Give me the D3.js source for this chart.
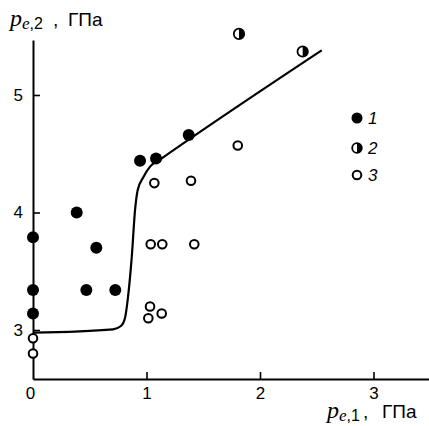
<!DOCTYPE html>
<html>
<head>
<meta charset="utf-8">
<script src="https://cdn.jsdelivr.net/npm/d3@7"></script>
<style>
  body { margin: 0; background: #fff; }
  svg { display: block; }
</style>
</head>
<body>
<svg width="429" height="426"></svg>
<script>
// series 1 - filled circles
var filledX = [0, 0, 0, 0.385, 0.558, 0.47, 0.725, 0.943, 1.084, 1.372];
var filledY = [3.79, 3.34, 3.14, 4.00, 3.70, 3.34, 3.34, 4.44, 4.46, 4.66];
// series 2 - half filled
var halfX = [1.815, 2.376];
var halfY = [5.52, 5.37];
// series 3 - open circles
var openX = [0, 0, 1.069, 1.392, 1.804, 1.037, 1.139, 1.421, 1.031, 1.016, 1.134];
var openY = [2.93, 2.80, 4.25, 4.27, 4.57, 3.73, 3.73, 3.73, 3.20, 3.10, 3.14];
// fitted curve
var curveX = [0, 0.705, 0.775, 0.81, 0.834, 0.87, 0.899, 0.922, 0.972, 1.031, 1.119, 2.544];
var curveY = [2.977, 3.006, 3.034, 3.10, 3.255, 3.62, 4.02, 4.19, 4.30, 4.39, 4.45, 5.38];

var xTicks = [0, 1, 2, 3];
var yTicks = [3, 4, 5];
var legendLabels = ["1", "2", "3"];

var svg = d3.select("svg");

var x = d3.scaleLinear().domain([0, 3.489]).range([33, 429]);
var y = d3.scaleLinear().domain([2.583, 5.468]).range([379, 40]);

var xAxis = svg.append("g")
    .attr("transform", "translate(0,379)")
    .call(d3.axisBottom(x).tickValues(xTicks).tickFormat(d3.format("d"))
        .tickSizeInner(-7).tickSizeOuter(0).tickPadding(8));
xAxis.selectAll(".tick line").filter(function(d){ return d == 0; }).remove();
xAxis.selectAll(".tick").filter(function(d){ return d == 0; }).select("text").attr("x", -3);

var yAxis = svg.append("g")
    .attr("transform", "translate(33,0)")
    .call(d3.axisLeft(y).tickValues(yTicks).tickFormat(d3.format("d"))
        .tickSizeInner(-7).tickSizeOuter(0).tickPadding(10));

svg.selectAll(".domain").attr("stroke", "#000").attr("stroke-width", 2);
svg.selectAll(".tick line").attr("stroke", "#000").attr("stroke-width", 1.6);
svg.selectAll(".tick text")
    .attr("font-family", "Liberation Sans, Arial, sans-serif")
    .attr("font-size", "17px")
    .attr("fill", "#000");

// curve
var line = d3.line()
    .x(function(d){ return x(d[0]); })
    .y(function(d){ return y(d[1]); })
    .curve(d3.curveMonotoneX);

svg.append("path")
    .datum(d3.zip(curveX, curveY))
    .attr("d", line)
    .attr("fill", "none")
    .attr("stroke", "#000")
    .attr("stroke-width", 2.2);

// markers
function drawFilled(g, cx, cy, r){
    g.append("circle").attr("cx", cx).attr("cy", cy).attr("r", r).attr("fill", "#000");
}
function drawOpen(g, cx, cy, r){
    g.append("circle").attr("cx", cx).attr("cy", cy).attr("r", r)
        .attr("fill", "#fff").attr("stroke", "#000").attr("stroke-width", 2);
}
function drawHalf(g, cx, cy, r){
    g.append("circle").attr("cx", cx).attr("cy", cy).attr("r", r)
        .attr("fill", "#fff").attr("stroke", "#000").attr("stroke-width", 1.8);
    g.append("path")
        .attr("d", "M" + cx + "," + (cy - r) + " A" + r + "," + r + " 0 0,1 " + cx + "," + (cy + r) + " Z")
        .attr("fill", "#000");
}

var marks = svg.append("g");
d3.zip(filledX, filledY).forEach(function(d){ drawFilled(marks, x(d[0]), y(d[1]), 6); });
d3.zip(halfX, halfY).forEach(function(d){ drawHalf(marks, x(d[0]), y(d[1]), 5.2); });
d3.zip(openX, openY).forEach(function(d){ drawOpen(marks, x(d[0]), y(d[1]), 4.3); });

// legend
var legend = svg.append("g");
var legendY = [118, 148, 175];
drawFilled(legend, 357, legendY[0], 5.5);
drawHalf(legend, 357, legendY[1], 4.8);
drawOpen(legend, 357, legendY[2], 4.3);
legend.selectAll("text.lab")
    .data(legendLabels)
    .enter()
    .append("text")
    .attr("class", "lab")
    .attr("x", 368)
    .attr("y", function(d, i){ return legendY[i] + 6; })
    .attr("font-family", "Liberation Sans, Arial, sans-serif")
    .attr("font-style", "italic")
    .attr("font-size", "17px")
    .text(function(d){ return d; });

// axis titles
function axisTitle(tx, ty, sub, commaX, unitX){
    var t = svg.append("text")
        .attr("x", tx)
        .attr("y", ty)
        .attr("fill", "#000");
    t.append("tspan")
        .attr("font-family", "Liberation Serif, serif")
        .attr("font-style", "italic")
        .attr("font-size", "24px")
        .text("p");
    t.append("tspan")
        .attr("font-family", "Liberation Serif, serif")
        .attr("font-style", "italic")
        .attr("font-size", "17px")
        .attr("dy", 3)
        .text("e");
    t.append("tspan")
        .attr("font-family", "Liberation Sans, Arial, sans-serif")
        .attr("font-size", "16px")
        .text("," + sub);
    t.append("tspan")
        .attr("font-family", "Liberation Sans, Arial, sans-serif")
        .attr("font-size", "19px")
        .attr("x", commaX)
        .attr("dy", -3)
        .text(",");
    t.append("tspan")
        .attr("font-family", "Liberation Sans, Arial, sans-serif")
        .attr("font-size", "19px")
        .attr("x", unitX)
        .text("ГПа");
}
axisTitle(10, 26, "2", 53, 68);
axisTitle(327, 418, "1", 363, 382);
</script>
</body>
</html>
